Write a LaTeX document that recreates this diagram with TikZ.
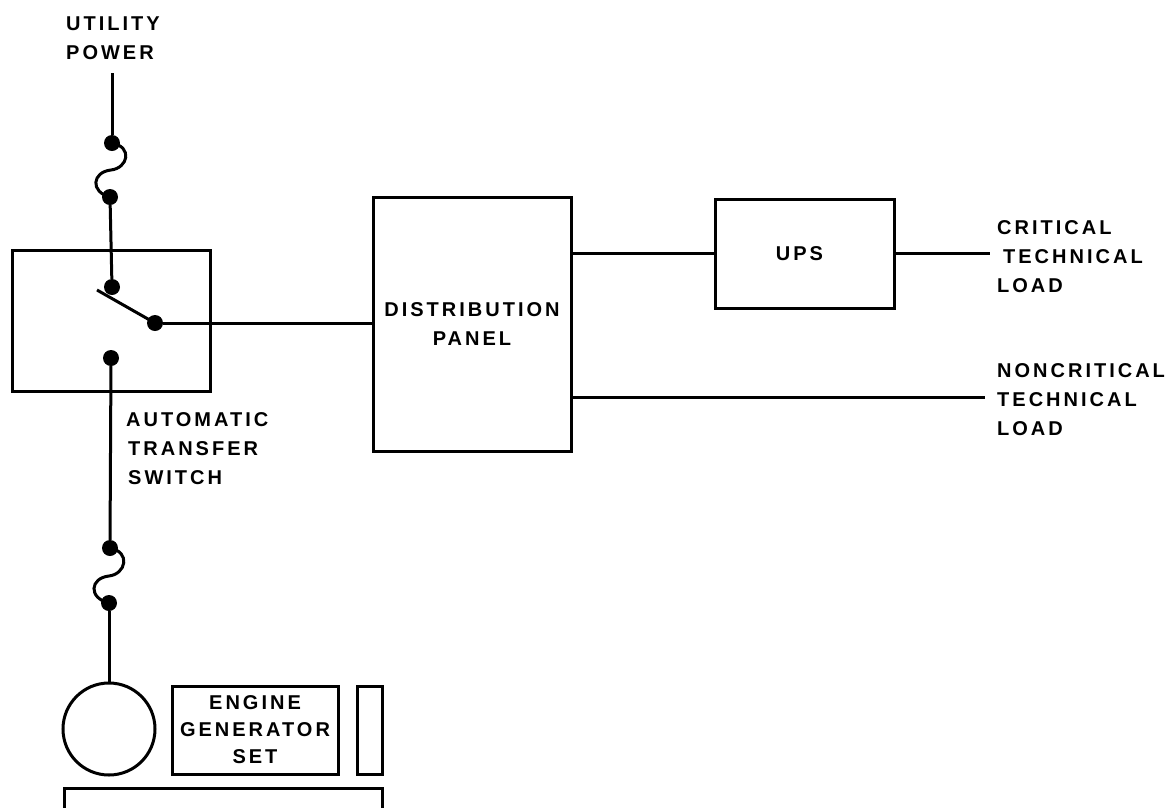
\documentclass[tikz,border=0pt]{standalone}
\usepackage{fontspec}
\setmainfont[LetterSpace=15]{Liberation Sans}
\usepackage{tikz}
\usetikzlibrary{positioning,calc}

\begin{document}
\begin{tikzpicture}[
    x=1pt, y=-1pt,
    wire/.style={line width=3pt},
    block/.style={draw, line width=3pt, inner sep=0pt, outer sep=0pt, anchor=north west, align=center, font=\fontsize{20}{29.5}\selectfont\bfseries},
    dot/.style={circle, fill=black, inner sep=0pt, minimum size=16pt},
    lbl/.style={anchor=west, inner sep=0pt, align=left, font=\fontsize{20}{29}\selectfont\bfseries}
]
\useasboundingbox (0,0) rectangle (1168,807);

% switch box and panels
\node[block, minimum width=198pt, minimum height=141pt] (ats) at (12,250) {};
\node[block, minimum width=198pt, minimum height=254pt] (panel) at (373,197) {DISTRIBUTION\\PANEL};
\node[block, minimum width=179pt, minimum height=109pt] (ups) at (715,199) {\hspace*{-10pt}UPS};
\node[block, minimum width=166pt, minimum height=88pt, font=\fontsize{20}{27}\selectfont\bfseries] (engine) at (172,686) {ENGINE\\GENERATOR\\SET};
\node[block, minimum width=25pt, minimum height=88pt] (radiator) at (357,686) {};
\node[block, minimum width=318pt, minimum height=40pt] (skid) at (64,788) {};
\node[draw, circle, line width=3pt, outer sep=0pt, minimum size=92pt, inner sep=0pt] (gen) at (109,729) {};

% contacts
\node[dot] (f1) at (112,143) {};
\node[dot] (f2) at (110,197) {};
\node[dot] (s1) at (112,287) {};
\node[dot] (s2) at (155,323) {};
\node[dot] (s3) at (111,358) {};
\node[dot] (f3) at (110,548) {};
\node[dot] (f4) at (109,603) {};
\coordinate (top) at (112,73);
\coordinate (blade) at (97,290);
\coordinate (out1) at (990,253);
\coordinate (out2) at (985,397);

% labels
\node[lbl] (utility) at (66,38) {UTILITY\\POWER};
\node[lbl] (atslabel) at (126,449) {AUTOMATIC\\\hspace*{2pt}TRANSFER\\\hspace*{2pt}SWITCH};
\node[lbl] (critical) at (997,257) {CRITICAL\\\hspace*{6pt}TECHNICAL\\LOAD};
\node[lbl] (noncritical) at (997,400) {NONCRITICAL\\TECHNICAL\\LOAD};

% wiring
\draw[wire] (top) -- (f1);
\draw[wire] (f1.center) .. controls (133,147) and (128,168) .. (111,170) .. controls (92,172) and (90,192) .. (f2.center);
\draw[wire] (f2) -- (s1);
\draw[wire] (blade) -- (s2.center);
\draw[wire] (s2) -- (s2 -| panel.west);
\draw[wire] (s3) -- (f3);
\draw[wire] (f3.center) .. controls (131,552) and (126,574) .. (109,576) .. controls (90,578) and (88,598) .. (f4.center);
\draw[wire] (f4) -- (gen);
\draw[wire] (panel.east |- out1) -- (ups.west |- out1);
\draw[wire] (ups.east |- out1) -- (out1);
\draw[wire] (panel.east |- out2) -- (out2);
\end{tikzpicture}
\end{document}
